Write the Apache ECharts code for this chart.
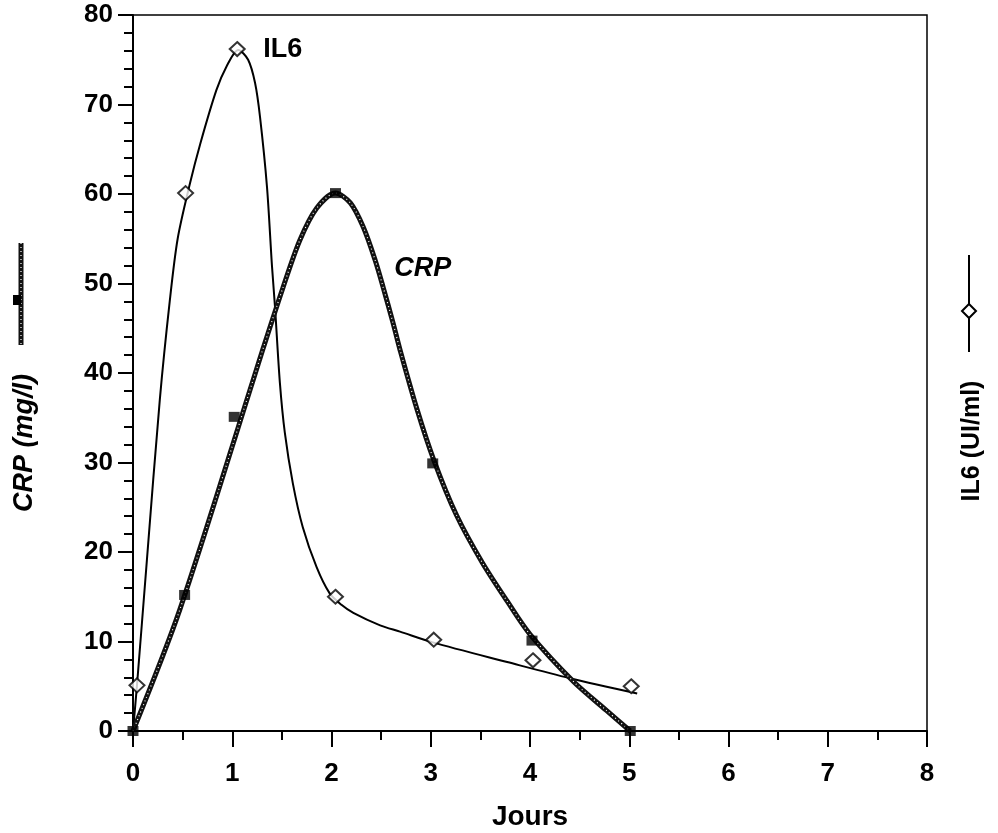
<!DOCTYPE html>
<html>
<head>
<meta charset="utf-8">
<script src="https://cdn.jsdelivr.net/npm/echarts@6/dist/echarts.min.js"></script>
<style>
  html, body { margin: 0; padding: 0; background: #fff; }
  #chart { width: 998px; height: 833px; }
</style>
</head>
<body>
<div id="chart"></div>
<script>
// mesures (jours, valeur)
var il6Points = [[0.04, 5.1], [0.53, 60.1], [1.05, 76.2], [2.04, 15.0], [3.03, 10.2], [4.03, 7.9], [5.02, 5.0]];
var crpPoints = [[0, 0], [0.52, 15.2], [1.02, 35.1], [2.04, 60.1], [3.02, 29.9], [4.02, 10.1], [5.01, 0]];

// courbes d'ajustement
var il6Curve = [[0, 0], [0.04, 5.1], [0.14, 19.1], [0.27, 37], [0.37, 48], [0.45, 55], [0.57, 61],
  [0.68, 65.7], [0.84, 71.6], [0.94, 74.2], [1.06, 76.1], [1.16, 75.0], [1.23, 72.4], [1.28, 68.6],
  [1.35, 60.8], [1.40, 52], [1.43, 47.5], [1.48, 38.9], [1.53, 33.3], [1.61, 27.7], [1.71, 22.8],
  [1.85, 18.3], [1.98, 15.4], [2.10, 14.1], [2.22, 13.2], [2.49, 11.8], [2.69, 11.1], [3.02, 9.9],
  [3.77, 7.7], [4.40, 5.9], [5.08, 4.2]];
var crpCurve = [[0, 0], [0.47, 13.5], [1.21, 39.2], [1.31, 42.7], [1.51, 49.5], [1.68, 54.8], [1.85, 58.4],
  [2.04, 60.1], [2.19, 59.0], [2.32, 56.3], [2.44, 52.6], [2.52, 49.6], [2.62, 45.6], [2.69, 42.6],
  [2.86, 36.0], [3.03, 30.3], [3.26, 24.1], [3.52, 18.8], [3.77, 14.5], [4.0, 10.8], [4.44, 5.5],
  [4.77, 2.3], [5.01, 0]];

var FONT = 'Liberation Sans, Arial, sans-serif';

var chart = echarts.init(document.getElementById('chart'));
chart.setOption({
  animation: false,
  backgroundColor: '#fff',
  grid: {
    left: 133, right: 71, top: 15, bottom: 102, outerBoundsMode: 'none',
    show: true, borderColor: '#000', borderWidth: 1.5, backgroundColor: 'transparent'
  },
  xAxis: {
    type: 'value', min: 0, max: 8, interval: 1,
    name: 'Jours', nameLocation: 'middle', nameGap: 72,
    nameTextStyle: { color: '#000', fontSize: 28, fontWeight: 'bold', fontFamily: FONT },
    axisLine: { lineStyle: { color: '#000', width: 2 } },
    axisTick: { length: 16, lineStyle: { color: '#000', width: 2 } },
    minorTick: { show: true, splitNumber: 2, length: 9, lineStyle: { color: '#000', width: 2 } },
    splitLine: { show: false },
    axisLabel: { color: '#000', fontSize: 26, fontWeight: 'bold', fontFamily: FONT, margin: 30 }
  },
  yAxis: {
    type: 'value', min: 0, max: 80, interval: 10,
    axisLine: { show: true, lineStyle: { color: '#000', width: 2 } },
    axisTick: { show: true, length: 15, lineStyle: { color: '#000', width: 2 } },
    minorTick: { show: true, splitNumber: 5, length: 9, lineStyle: { color: '#000', width: 2 } },
    splitLine: { show: false },
    axisLabel: { color: '#000', fontSize: 26, fontWeight: 'bold', fontFamily: FONT, margin: 20 }
  },
  series: [
    {
      type: 'line', data: il6Curve, smooth: 0.3, showSymbol: false,
      lineStyle: { color: '#000', width: 2 }, z: 2,
      markPoint: {
        symbol: 'circle', symbolSize: 0,
        label: { show: true, position: 'inside', formatter: 'IL6', color: '#000', fontSize: 27, fontWeight: 'bold', fontFamily: FONT },
        data: [{ coord: [1.51, 76.1] }]
      }
    },
    {
      type: 'line', data: crpCurve, smooth: 0.3, showSymbol: false,
      lineStyle: { color: '#111', width: 5 }, z: 3,
      markPoint: {
        symbol: 'circle', symbolSize: 0,
        label: { show: true, position: 'inside', formatter: 'CRP', color: '#000', fontSize: 27, fontWeight: 'bold', fontStyle: 'italic', fontFamily: FONT },
        data: [{ coord: [2.92, 51.7] }]
      }
    },
    {
      type: 'line', data: crpCurve, smooth: 0.3, showSymbol: false,
      lineStyle: { color: '#fff', width: 1.2, type: [1, 3] }, z: 4
    },
    {
      type: 'scatter', data: crpPoints, symbol: 'rect', symbolSize: [11, 10],
      itemStyle: { color: '#000' }, z: 5
    },
    {
      type: 'scatter', data: il6Points, symbol: 'diamond', symbolSize: [15, 14],
      itemStyle: { color: '#fff', borderColor: '#000', borderWidth: 2 }, z: 6
    }
  ],
  graphic: [
    { type: 'line', shape: { x1: 21, y1: 243, x2: 21, y2: 345 }, style: { stroke: '#111', lineWidth: 5 } },
    { type: 'line', shape: { x1: 21, y1: 243, x2: 21, y2: 345 }, style: { stroke: '#fff', lineWidth: 1.2, lineDash: [1, 3] } },
    { type: 'rect', shape: { x: 13, y: 295, width: 8, height: 10 }, style: { fill: '#000' } },
    {
      type: 'text', x: 25, y: 443, rotation: Math.PI / 2,
      style: { text: 'CRP (mg/l)', fill: '#000', font: 'italic bold 27px ' + FONT, align: 'center', verticalAlign: 'middle' }
    },
    { type: 'line', shape: { x1: 969, y1: 255, x2: 969, y2: 352 }, style: { stroke: '#000', lineWidth: 2 } },
    {
      type: 'polygon', shape: { points: [[969, 304], [976, 311], [969, 318], [962, 311]] },
      style: { fill: '#fff', stroke: '#000', lineWidth: 2 }
    },
    {
      type: 'text', x: 972, y: 441, rotation: Math.PI / 2,
      style: { text: 'IL6 (UI/ml)', fill: '#000', font: 'bold 25px ' + FONT, align: 'center', verticalAlign: 'middle' }
    }
  ]
});
</script>
</body>
</html>
